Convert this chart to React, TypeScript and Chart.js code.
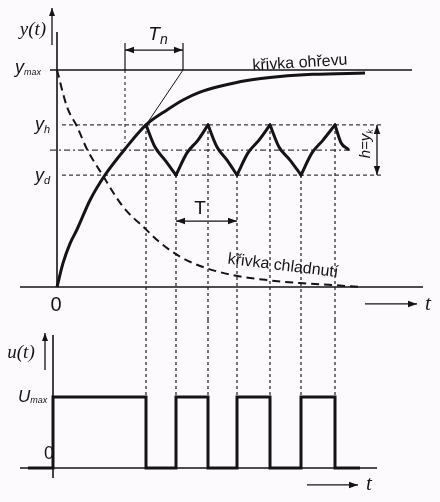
import React, { useEffect, useRef } from "react";
import { Chart, registerables } from "chart.js";
Chart.register(...registerables);

// ---------- data (time in arbitrary units, y relative to y_max = 1, u relative to u_max = 1) ----------
const heatT = [0, 0.6, 1.3, 2.0, 3.3, 4.8, 6.8, 8.9, 11.0, 12.6, 14.3, 16.3, 19.0, 22.3, 25.6, 30.8];
const heatY = [0, 0.11, 0.2, 0.265, 0.4, 0.516, 0.636, 0.747, 0.816, 0.862, 0.898, 0.925, 0.952, 0.97, 0.98, 0.986];
const coolT = [0, 1.0, 2.0, 3.0, 4.5, 6.6, 8.8, 10.3, 12.3, 14.6, 17.6, 21.0, 24.3, 27.6, 30.3];
const coolY = [1.0, 0.83, 0.74, 0.635, 0.52, 0.37, 0.27, 0.205, 0.14, 0.092, 0.055, 0.032, 0.018, 0.009, 0.0];
const sawT = [8.9, 9.8, 10.8, 11.9, 13.0, 14.1, 15.1, 16.0, 17.0, 18.0, 19.1, 20.2, 21.3, 22.2, 23.3, 24.4, 25.5, 26.6, 27.8, 28.4, 29.1];
const sawY = [0.747, 0.645, 0.585, 0.516, 0.618, 0.677, 0.747, 0.645, 0.585, 0.516, 0.618, 0.677, 0.747, 0.645, 0.585, 0.516, 0.618, 0.677, 0.747, 0.665, 0.635];
const switchT = [8.9, 11.9, 15.1, 18.0, 21.3, 24.4, 27.8];
const switchY = [0.747, 0.516, 0.747, 0.516, 0.747, 0.516, 0.747];
const uT = [-2.9, -0.4, 8.9, 11.9, 15.1, 18.0, 21.3, 24.4, 27.8, 30.3];
const uV = [0, 1, 0, 1, 0, 1, 0, 1, 0, 0];

const Y_MAX = 1.0;
const Y_H = 0.747;
const Y_D = 0.516;
const Y_MID = 0.631;
const U_MAX = 1.0;
const TN = [6.8, 12.6];
const TN_TOP = 1.124;
const TN_ARROW_Y = 1.092;
const TN_DASH_END = 0.664;
const T_PERIOD = [11.9, 18.0];
const T_ARROW_Y = 0.304;
const H_ARROW_T = 32.0;

// view ranges
const X_RANGE = [-5.7, 38.3];
const Y_RANGE = [-0.152, 1.3226];
const U_RANGE = [-0.479, 2.0845];

const INK = "#141414";
const GRID = "#3c3c3c";
const BG = "#fcfafd";
const SANS = '"Liberation Sans", Arial, sans-serif';
const SERIF = '"Liberation Serif", "Times New Roman", serif';

type P = { x: number; y: number | null };
const pts = (xs: number[], ys: number[]): P[] => xs.map((x, i) => ({ x, y: ys[i] }));

function line(data: P[], opts: any = {}) {
  return {
    data,
    borderColor: INK,
    borderWidth: 1.3,
    pointRadius: 0,
    tension: 0,
    fill: false,
    spanGaps: false,
    ...opts,
  };
}

function verticals(xs: number[], from: number[] | number, to: number): P[] {
  const out: P[] = [];
  xs.forEach((x, i) => {
    const f = Array.isArray(from) ? from[i] : from;
    out.push({ x, y: f }, { x, y: to }, { x, y: null });
  });
  return out;
}

// split the sawtooth into monotone pieces (between switching instants) so each piece is smooth but corners stay sharp
function sawPieces(): P[][] {
  const out: P[][] = [];
  let cur: P[] = [];
  sawT.forEach((t, i) => {
    cur.push({ x: t, y: sawY[i] });
    if (i > 0 && switchT.includes(t)) {
      out.push(cur);
      cur = [{ x: t, y: sawY[i] }];
    }
  });
  if (cur.length > 1) out.push(cur);
  return out;
}

type Lbl = {
  text: string;
  sub?: string;
  t: number;
  v: number;
  font: string;
  subFont?: string;
  subDy?: number;
  align?: "left" | "center";
  rot?: number;
};

const topLabels: Lbl[] = [
  { text: "y(t)", t: -2.4, v: 1.184, font: `italic 19px ${SERIF}` },
  { text: "y", sub: "max", t: -4.2, v: 1.01, align: "left", font: `italic 18px ${SANS}`, subFont: `italic 9px ${SANS}`, subDy: 5 },
  { text: "y", sub: "h", t: -2.2, v: 0.745, align: "left", font: `italic 18px ${SANS}`, subFont: `italic 11px ${SANS}`, subDy: 5 },
  { text: "y", sub: "d", t: -2.2, v: 0.51, align: "left", font: `italic 18px ${SANS}`, subFont: `italic 11px ${SANS}`, subDy: 5 },
  { text: "0", t: -0.1, v: -0.083, font: `20px ${SANS}` },
  { text: "t", t: 37.1, v: -0.08, font: `italic 21px ${SERIF}` },
  { text: "T", sub: "n", t: 10.1, v: 1.161, font: `italic 19px ${SANS}`, subFont: `italic 14px ${SANS}`, subDy: 5 },
  { text: "křivka ohřevu", t: 24.3, v: 1.032, rot: -3.5, font: `16px ${SANS}` },
  { text: "křivka chladnutí", t: 22.6, v: 0.097, rot: 7, font: `16px ${SANS}` },
  { text: "T", t: 14.3, v: 0.36, font: `19px ${SANS}` },
  { text: "h=y", sub: "k", t: 30.9, v: 0.66, rot: -90, font: `italic 15px ${SANS}`, subFont: `italic 9px ${SANS}`, subDy: 4 },
];

const botLabels: Lbl[] = [
  { text: "u(t)", t: -3.6, v: 1.62, font: `italic 19px ${SERIF}` },
  { text: "U", sub: "max", t: -3.9, v: 1.0, align: "left", font: `italic 17px ${SANS}`, subFont: `italic 9px ${SANS}`, subDy: 4 },
  { text: "0", t: -0.8, v: 0.2, font: `18px ${SANS}` },
  { text: "t", t: 31.2, v: -0.239, font: `italic 21px ${SERIF}` },
];

function labelPlugin(labels: Lbl[]) {
  return {
    id: "labels",
    afterDatasetsDraw(chart: any) {
      const ctx: CanvasRenderingContext2D = chart.ctx;
      const xs = chart.scales.x;
      const ys = chart.scales.y;
      labels.forEach((l) => {
        const px = xs.getPixelForValue(l.t);
        const py = ys.getPixelForValue(l.v);
        ctx.save();
        ctx.translate(px, py);
        if (l.rot) ctx.rotate((l.rot * Math.PI) / 180);
        ctx.fillStyle = INK;
        ctx.textBaseline = "middle";
        ctx.textAlign = "left";
        ctx.font = l.font;
        const w1 = ctx.measureText(l.text).width;
        let w2 = 0;
        if (l.sub && l.subFont) {
          ctx.font = l.subFont;
          w2 = ctx.measureText(l.sub).width;
        }
        const x0 = l.align === "left" ? 0 : -(w1 + w2) / 2;
        ctx.font = l.font;
        ctx.fillText(l.text, x0, 0);
        if (l.sub && l.subFont) {
          ctx.font = l.subFont;
          ctx.fillText(l.sub, x0 + w1, l.subDy ?? 5);
        }
        ctx.restore();
      });
    },
  };
}

// arrowheads at dataset ends (dataset.arrows: 'end' | 'both')
const arrowPlugin = {
  id: "arrowheads",
  afterDatasetsDraw(chart: any) {
    const ctx: CanvasRenderingContext2D = chart.ctx;
    chart.data.datasets.forEach((ds: any, i: number) => {
      if (!ds.arrows) return;
      const el = chart.getDatasetMeta(i).data;
      if (el.length < 2) return;
      const head = (a: any, b: any) => {
        const ang = Math.atan2(b.y - a.y, b.x - a.x);
        const L = ds.headLen ?? 9;
        const W = ds.headW ?? 3.2;
        ctx.save();
        ctx.translate(b.x, b.y);
        ctx.rotate(ang);
        ctx.beginPath();
        ctx.moveTo(0, 0);
        ctx.lineTo(-L, -W);
        ctx.lineTo(-L, W);
        ctx.closePath();
        ctx.fillStyle = INK;
        ctx.fill();
        ctx.restore();
      };
      head(el[el.length - 2], el[el.length - 1]);
      if (ds.arrows === "both") head(el[1], el[0]);
    });
  },
};

function baseOptions(yr: number[]) {
  return {
    responsive: false,
    animation: false as const,
    events: [] as any[],
    layout: { padding: 0 },
    plugins: { legend: { display: false }, tooltip: { enabled: false } },
    scales: {
      x: { type: "linear" as const, min: X_RANGE[0], max: X_RANGE[1], display: false },
      y: { type: "linear" as const, min: yr[0], max: yr[1], display: false },
    },
  };
}

export default function App() {
  const topRef = useRef<HTMLCanvasElement>(null);
  const botRef = useRef<HTMLCanvasElement>(null);

  useEffect(() => {
    const topDatasets: any[] = [
      // heating curve
      line(pts(heatT, heatY), { borderWidth: 3, cubicInterpolationMode: "monotone" }),
      // controlled output (sawtooth), piecewise smooth
      ...sawPieces().map((p) => line(p, { borderWidth: 3, cubicInterpolationMode: "monotone", borderCapStyle: "round" })),
      // cooling curve
      line(pts(coolT, coolY), { borderWidth: 2, borderDash: [8, 5], cubicInterpolationMode: "monotone" }),
      // axes
      line([{ x: X_RANGE[0] + 2.0, y: 0 }, { x: 36.6, y: 0 }], { borderWidth: 1.6 }),
      line([{ x: 0, y: 0 }, { x: 0, y: 1.175 }], { borderWidth: 1.6 }),
      line([{ x: -0.5, y: 1.115 }, { x: -0.5, y: 1.286 }], { borderWidth: 1.3, arrows: "end", headLen: 8, headW: 3 }),
      line([{ x: 30.8, y: -0.078 }, { x: 36.0, y: -0.078 }], { borderWidth: 1.3, arrows: "end" }),
      // y_max line
      line([{ x: -0.7, y: Y_MAX }, { x: 35.5, y: Y_MAX }], { borderWidth: 1.3 }),
      // y_h and y_d levels
      line(
        [{ x: 0.5, y: Y_H }, { x: 32.6, y: Y_H }, { x: 32.6, y: null }, { x: 0.5, y: Y_D }, { x: 32.6, y: Y_D }],
        { borderWidth: 1.2, borderDash: [4, 3], borderColor: GRID }
      ),
      // middle dash-dot
      line([{ x: -0.7, y: Y_MID }, { x: 29.3, y: Y_MID }], { borderWidth: 1.1, borderDash: [6, 3, 2, 3], borderColor: GRID }),
      // switching instants
      line(verticals(switchT, switchY, Y_RANGE[0]), { borderWidth: 1.4, borderDash: [3, 3], borderColor: GRID }),
      // T_n construction
      line(verticals(TN, Y_MAX, TN_TOP), { borderWidth: 1.2 }),
      line([{ x: TN[0], y: Y_MAX }, { x: TN[0], y: TN_DASH_END }], { borderWidth: 1.2, borderDash: [3, 3], borderColor: GRID }),
      line([{ x: heatT[7], y: heatY[7] }, { x: TN[1], y: Y_MAX }], { borderWidth: 1 }),
      line([{ x: TN[0], y: TN_ARROW_Y }, { x: TN[1], y: TN_ARROW_Y }], { borderWidth: 1.3, arrows: "both" }),
      // period T
      line([{ x: T_PERIOD[0], y: T_ARROW_Y }, { x: T_PERIOD[1], y: T_ARROW_Y }], { borderWidth: 1.3, arrows: "both" }),
      // hysteresis h
      line([{ x: H_ARROW_T, y: Y_H }, { x: H_ARROW_T, y: Y_D }], { borderWidth: 1.3, arrows: "both" }),
    ];

    const botDatasets: any[] = [
      line(pts(uT, uV), { borderWidth: 3, stepped: "before", borderJoinStyle: "miter" }),
      line([{ x: X_RANGE[0] + 2.0, y: 0 }, { x: 32.0, y: 0 }], { borderWidth: 1.4 }),
      line([{ x: -0.4, y: -0.141 }, { x: -0.4, y: 1.873 }], { borderWidth: 1.6 }),
      line([{ x: -1.2, y: 1.38 }, { x: -1.2, y: 1.9 }], { borderWidth: 1.3, arrows: "end", headLen: 8, headW: 3 }),
      line([{ x: 25.0, y: -0.239 }, { x: 30.1, y: -0.239 }], { borderWidth: 1.3, arrows: "end" }),
      line(verticals(switchT, U_RANGE[1], U_MAX), { borderWidth: 1.4, borderDash: [3, 3], borderColor: GRID }),
    ];

    const top = new Chart(topRef.current!, {
      type: "line",
      data: { datasets: topDatasets },
      options: baseOptions(Y_RANGE) as any,
      plugins: [labelPlugin(topLabels), arrowPlugin],
    });
    const bot = new Chart(botRef.current!, {
      type: "line",
      data: { datasets: botDatasets },
      options: baseOptions(U_RANGE) as any,
      plugins: [labelPlugin(botLabels), arrowPlugin],
    });
    return () => {
      top.destroy();
      bot.destroy();
    };
  }, []);

  return (
    <div style={{ position: "fixed", left: 0, top: 0, width: 440, height: 502, background: BG }}>
      <div style={{ width: 440, height: 320 }}>
        <canvas ref={topRef} width={440} height={320} style={{ display: "block" }} />
      </div>
      <div style={{ width: 440, height: 182 }}>
        <canvas ref={botRef} width={440} height={182} style={{ display: "block" }} />
      </div>
    </div>
  );
}
